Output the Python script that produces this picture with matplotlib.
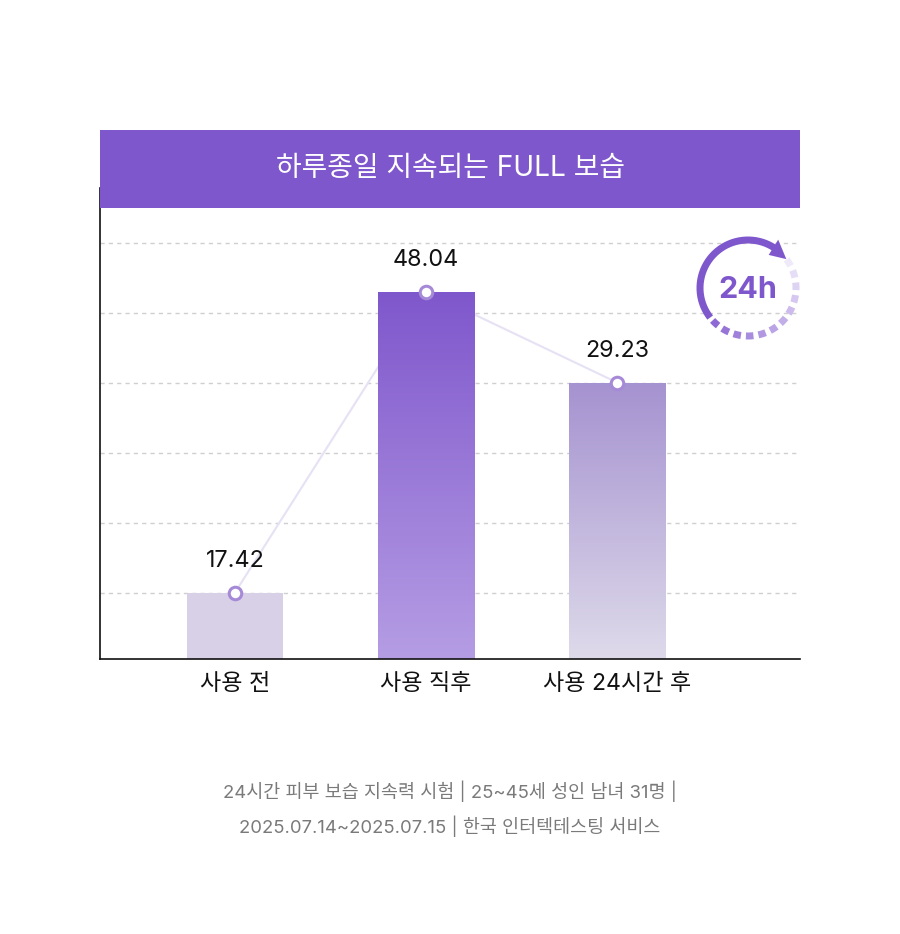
import numpy as np
import matplotlib
matplotlib.use('Agg')
import matplotlib.pyplot as plt
from matplotlib.colors import LinearSegmentedColormap, to_rgb
from matplotlib.patches import Rectangle, Polygon

# Inter for latin/digits, Noto CJK for hangul (close to Pretendard)
plt.rcParams['font.family'] = ['Inter', 'Noto Sans CJK KR', 'DejaVu Sans']

# Data
categories = ['사용 전', '사용 직후', '사용 24시간 후']
values = [17.42, 48.04, 29.23]
# bar heights as drawn in the picture (in grid steps, not proportional to values)
bar_levels = [1.0, 5.3, 4.0]
grid_levels = [1, 2, 3, 4, 5, 6]

title = '하루종일 지속되는 FULL 보습'
footer_lines = ['24시간 피부 보습 지속력 시험 | 25~45세 성인 남녀 31명 |',
                '2025.07.14~2025.07.15 | 한국 인터텍테스팅 서비스']

# Colors
purple = '#7f57cc'
bar_top_colors = ['#d8d0e6', '#7f57cc', '#a592d0']
bar_bottom_colors = ['#d8d0e6', '#b59de4', '#dedaea']

W, H = 900, 934
fig = plt.figure(figsize=(9, 9.34), dpi=100)

def fx(px):
    return px / W

def fy(py):
    return 1 - py / H

# Main axes
ax = fig.add_axes([fx(100), fy(659), fx(700), (659 - 188) / H])
pos = np.arange(len(categories))
width = 0.503

# Grid
for g in grid_levels:
    ax.axhline(g, color='#cfcfcf', lw=1, ls=(0, (3, 3)), zorder=0)

# Connecting line (behind bars)
ax.plot(pos, bar_levels, color='#e6e1f4', lw=1.5, zorder=1)

# Bars
rects = ax.bar(pos, bar_levels, width, color=bar_top_colors, zorder=2)
for r, c_top, c_bot in zip(rects, bar_top_colors, bar_bottom_colors):
    if c_top == c_bot:
        continue
    cmap = LinearSegmentedColormap.from_list('g', [c_bot, c_top])
    grad = np.linspace(0, 1, 256).reshape(-1, 1)
    x0, y0 = r.get_x(), 0.05
    x1, y1 = r.get_x() + r.get_width(), r.get_height()
    im = ax.imshow(grad, cmap=cmap, origin='lower', aspect='auto',
                   extent=[x0, x1, y0, y1], zorder=2.5)
    im.set_clip_path(r)

ax.set_xlim(-0.707, 2.958)
ax.set_ylim(0.05, 0.05 + 471 / 70)

# Markers
ax.plot(pos, bar_levels, ls='none', marker='o', ms=9, mfc='white',
        mec='#a68ad8', mew=2.2, zorder=5)

# Value labels
for x, lv, v in zip(pos, bar_levels, values):
    ax.annotate(f'{v:.2f}', (x, lv), xytext=(0, 23), textcoords='offset points',
                ha='center', va='center', fontsize=16.8, color='#111111')

# Axes styling
for s in ['top', 'right']:
    ax.spines[s].set_visible(False)
for s in ['left', 'bottom']:
    ax.spines[s].set_linewidth(1.2)
    ax.spines[s].set_color('#111111')
ax.set_yticks([])
ax.set_xticks(pos)
ax.set_xticklabels(categories, fontsize=16.6, color='#111111')
ax.tick_params(axis='x', length=0, pad=10)

# Header band
fig.patches.append(Rectangle((fx(100), fy(208)), fx(700), 78 / H,
                             transform=fig.transFigure, facecolor='#7f57cc',
                             edgecolor='none', zorder=10))
fig.text(fx(450), fy(169), title, color='white', fontsize=20.1,
         ha='center', va='center', zorder=11)

# Footer
fig.text(fx(450), fy(791), footer_lines[0], color='#7a7a7a', fontsize=13.3,
         ha='center', va='center')
fig.text(fx(450), fy(826), footer_lines[1], color='#7a7a7a', fontsize=13.3,
         ha='center', va='center')

# 24h icon
R = 65
iax = fig.add_axes([fx(748 - R), fy(288 + R), 2 * R / W, 2 * R / H])
iax.set_xlim(-R, R)
iax.set_ylim(-R, R)
iax.axis('off')
iax.patch.set_alpha(0)
r0 = 48
lw_pt = 7 * 72 / 100
t = np.radians(np.linspace(56, 218, 200))
iax.plot(r0 * np.cos(t), r0 * np.sin(t), color=purple, lw=lw_pt,
         solid_capstyle='butt')
a_base = np.radians(58)
a_tip = np.radians(37)
tri = [((r0 + 9) * np.cos(a_base), (r0 + 9) * np.sin(a_base)),
       ((r0 - 9) * np.cos(a_base), (r0 - 9) * np.sin(a_base)),
       (r0 * np.cos(a_tip), r0 * np.sin(a_tip))]
iax.add_patch(Polygon(tri, closed=True, color=purple, lw=0))
c0 = np.array(to_rgb('#8e69d4'))
c1 = np.array(to_rgb('#efeaf9'))
centers = np.linspace(227, 392, 12)
for i, c in enumerate(centers):
    f = i / (len(centers) - 1)
    col = c0 * (1 - f) + c1 * f
    tt = np.radians(np.linspace(c - 4.5, c + 4.5, 10))
    iax.plot(r0 * np.cos(tt), r0 * np.sin(tt), color=col, lw=lw_pt,
             solid_capstyle='butt')
iax.text(0, -2, '24h', color=purple, fontsize=22, fontweight='bold',
         ha='center', va='center')

fig.savefig('out.png', dpi=100)
